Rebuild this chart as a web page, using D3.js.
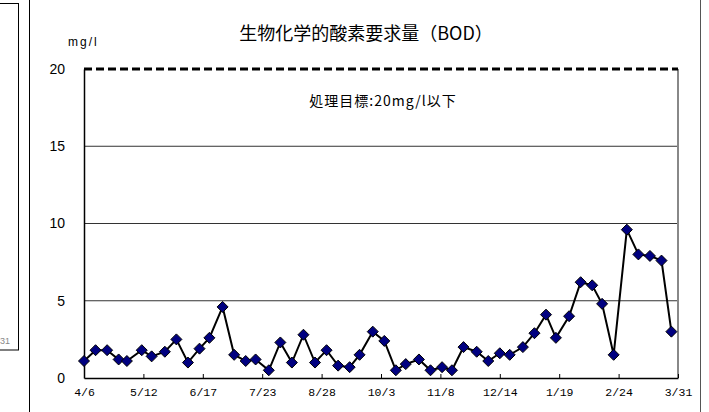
<!DOCTYPE html>
<html>
<head>
<meta charset="utf-8">
<script src="https://cdn.jsdelivr.net/npm/d3@7"></script>
<style>
  body { margin: 0; background: #fff; }
  svg { display: block; }
</style>
</head>
<body>
<div id="chart"></div>
<script>
// sample dates (Excel date axis, 2007-04-06 .. 2008-03-31)
const sampleDates = ["2007-04-06","2007-04-13","2007-04-20","2007-04-27","2007-05-02","2007-05-11","2007-05-17","2007-05-25","2007-06-01","2007-06-08",
    "2007-06-15","2007-06-21","2007-06-29","2007-07-06","2007-07-13","2007-07-19","2007-07-27","2007-08-03","2007-08-10","2007-08-17",
    "2007-08-24","2007-08-31","2007-09-07","2007-09-14","2007-09-20","2007-09-28","2007-10-05","2007-10-12","2007-10-18","2007-10-26",
    "2007-11-02","2007-11-09","2007-11-15","2007-11-22","2007-11-30","2007-12-07","2007-12-14","2007-12-20","2007-12-28","2008-01-04",
    "2008-01-11","2008-01-17","2008-01-25","2008-02-01","2008-02-08","2008-02-14","2008-02-21","2008-02-29","2008-03-07","2008-03-14",
    "2008-03-21","2008-03-27"];

// BOD mg/l
const bodValues = [1.1,1.8,1.8,1.2,1.1,1.8,1.4,1.7,2.5,1.0,
    1.9,2.6,4.6,1.5,1.1,1.2,0.5,2.3,1.0,2.8,
    1.0,1.8,0.8,0.7,1.5,3.0,2.4,0.5,0.9,1.2,
    0.5,0.7,0.5,2.0,1.7,1.1,1.6,1.5,2.0,2.9,
    4.1,2.6,4.0,6.2,6.0,4.8,1.5,9.6,8.0,7.9,
    7.6,3.0];

const tickDates = ["2007-04-06","2007-05-12","2007-06-17","2007-07-23","2007-08-28","2007-10-03","2007-11-08","2007-12-14","2008-01-19","2008-02-24","2008-03-31"];
const tickLabels = ["4/6","5/12","6/17","7/23","8/28","10/3","11/8","12/14","1/19","2/24","3/31"];
const yTicks = [0, 5, 10, 15, 20];
const targetValue = 20;

const parse = d3.utcParse("%Y-%m-%d");

const W = 709, H = 412;
const margin = { top: 69, right: 31, bottom: 34, left: 84 },
    width = W - margin.left - margin.right,
    height = H - margin.top - margin.bottom;

const svg = d3.select("#chart")
    .append("svg")
    .attr("width", W)
    .attr("height", H);

// bits of the neighbouring chart on the left
svg.append("rect")
    .attr("x", -10).attr("y", 3.5)
    .attr("width", 28.5).attr("height", 346.5)
    .attr("fill", "none").attr("stroke", "#000").attr("stroke-width", 1);
svg.append("text")
    .attr("x", 0).attr("y", 344)
    .attr("font-family", "Liberation Sans, Arial, sans-serif")
    .attr("font-size", 9).attr("fill", "#888")
    .text("31");

// outer frame of this chart
svg.append("line").attr("x1", 29.5).attr("x2", 29.5).attr("y1", 0).attr("y2", H)
    .attr("stroke", "#000");
svg.append("line").attr("x1", 700.5).attr("x2", 700.5).attr("y1", 0).attr("y2", H)
    .attr("stroke", "#555");

const g = svg.append("g")
    .attr("transform", `translate(${margin.left}, ${margin.top})`);

const x = d3.scaleUtc()
    .domain([parse(tickDates[0]), parse(tickDates[tickDates.length - 1])])
    .range([0, width]);

const y = d3.scaleLinear()
    .domain([0, 20])
    .range([height, 0]);

// gridlines
g.append("g")
    .selectAll("line")
    .data(yTicks.filter(d => d > 0 && d < 20))
    .join("line")
    .attr("x1", 0).attr("x2", width)
    .attr("y1", d => y(d)).attr("y2", d => y(d))
    .attr("stroke", "#333").attr("stroke-width", 1);

// right border of plot area
g.append("line")
    .attr("x1", width).attr("x2", width)
    .attr("y1", 0).attr("y2", height)
    .attr("stroke", "#888").attr("stroke-width", 2);

// Y axis
const yAxis = g.append("g")
    .call(d3.axisLeft(y).tickValues(yTicks).tickSize(0).tickPadding(19));
yAxis.select(".domain").attr("stroke", "#000").attr("stroke-width", 1.5);
yAxis.selectAll("text")
    .attr("font-family", "Liberation Sans, Arial, sans-serif")
    .attr("font-size", 14).attr("fill", "#000");

// X axis
const xAxis = g.append("g")
    .attr("transform", `translate(0, ${height})`)
    .call(d3.axisBottom(x)
        .tickValues(tickDates.map(parse))
        .tickFormat((d, i) => tickLabels[i])
        .tickSizeInner(-4).tickSizeOuter(0).tickPadding(10));
xAxis.select(".domain").attr("stroke", "#000").attr("stroke-width", 1.5);
xAxis.selectAll(".tick line").attr("stroke", "#000");
xAxis.selectAll("text")
    .attr("font-family", "Liberation Mono, DejaVu Sans Mono, monospace")
    .attr("font-size", 11.5).attr("fill", "#000");

// target line
g.append("line")
    .attr("x1", 0).attr("x2", width)
    .attr("y1", y(targetValue)).attr("y2", y(targetValue))
    .attr("stroke", "#000").attr("stroke-width", 3)
    .attr("stroke-dasharray", "8,4");

// series
const data = sampleDates.map((d, i) => ({ date: parse(d), value: bodValues[i] }));

g.append("path")
    .datum(data)
    .attr("fill", "none")
    .attr("stroke", "#000")
    .attr("stroke-width", 2)
    .attr("d", d3.line().x(d => x(d.date)).y(d => y(d.value)));

g.append("g")
    .selectAll("path")
    .data(data)
    .join("path")
    .attr("transform", d => `translate(${x(d.date)}, ${y(d.value)})`)
    .attr("d", "M0,-5.5L5.5,0L0,5.5L-5.5,0Z")
    .attr("fill", "#000080")
    .attr("stroke", "#000")
    .attr("stroke-width", 1);

// texts
svg.append("text")
    .attr("x", 366).attr("y", 40)
    .attr("text-anchor", "middle")
    .attr("font-family", "Noto Sans CJK JP, sans-serif")
    .attr("font-size", 18)
    .text("生物化学的酸素要求量（BOD）");

svg.append("text")
    .attr("x", 68).attr("y", 46)
    .attr("font-family", "Liberation Sans, Arial, sans-serif")
    .attr("font-size", 12)
    .attr("letter-spacing", 2)
    .text("mg/l");

svg.append("text")
    .attr("x", 383).attr("y", 106)
    .attr("text-anchor", "middle")
    .attr("font-family", "Noto Sans CJK JP, sans-serif")
    .attr("font-size", 14)
    .attr("letter-spacing", 1)
    .text("処理目標:20mg/l以下");
</script>
</body>
</html>
